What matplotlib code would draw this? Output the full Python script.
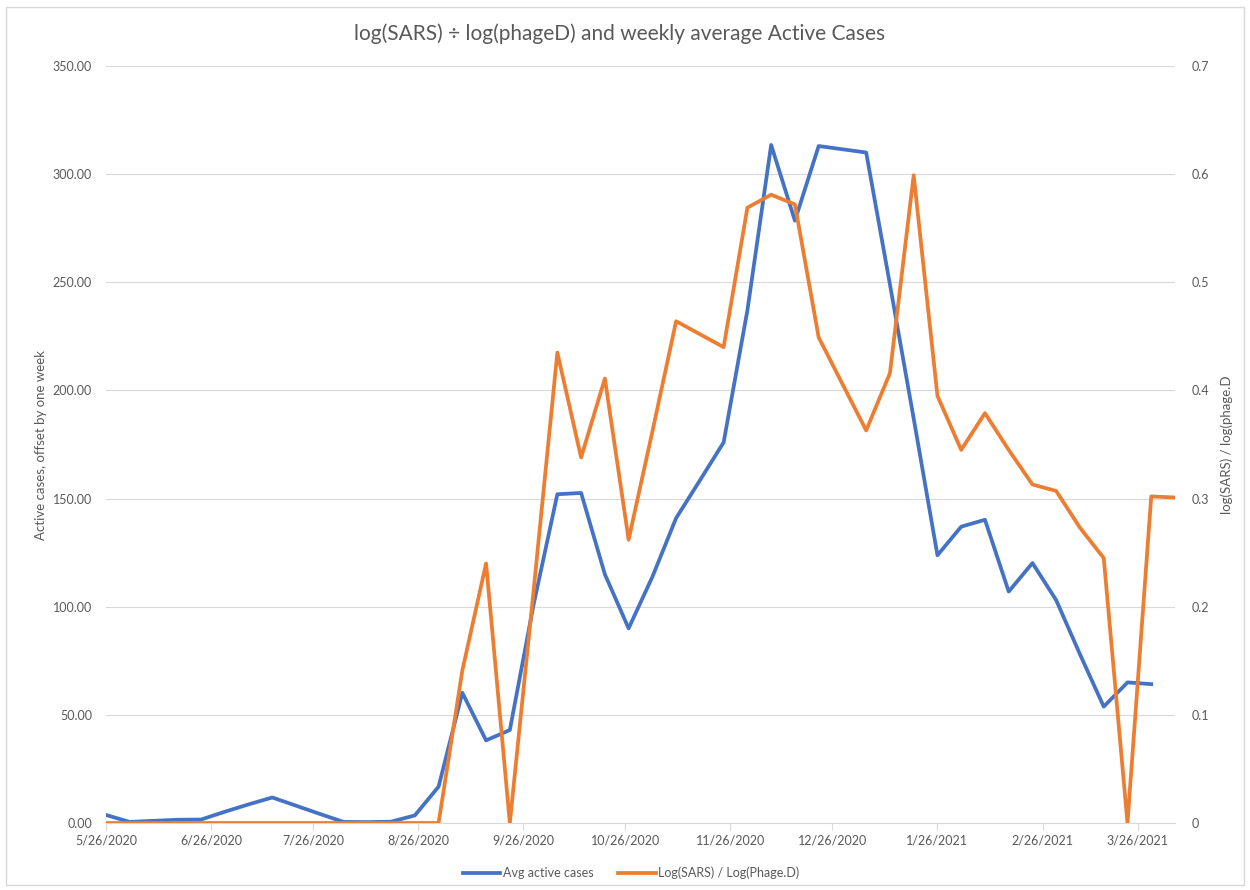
import numpy as np
import pandas as pd
import matplotlib
matplotlib.use("Agg")
import matplotlib.pyplot as plt
import matplotlib.dates as mdates
from matplotlib.ticker import FuncFormatter, MultipleLocator
from matplotlib.patches import Rectangle

plt.rcParams['font.family'] = ['Lato', 'DejaVu Sans']

# weekly sample dates
weeks = pd.date_range("2020-05-26", periods=46, freq="7D")

# Avg active cases (left axis), last week has no value
active_cases = [3.7, 0.5, 1.0, 1.5, 1.6, 5.2, 8.6, 11.8, 8.0, 4.2,
                0.5, 0.4, 0.6, 3.5, 16.8, 60.2, 38.2, 43.0, 101.0, 152.0,
                152.6, 115.0, 90.0, 113.8, 141.0, 158.4, 176.0, 237.0, 313.5, 278.5,
                313.0, 311.5, 310.0, 249.0, 187.0, 123.8, 137.0, 140.2, 107.0, 120.2,
                103.0, 78.0, 53.8, 65.0, 64.2]

# Log(SARS) / Log(Phage.D) (right axis)
log_ratio = [0, 0, 0, 0, 0, 0, 0, 0, 0, 0,
             0, 0, 0, 0, 0, 0.141, 0.240, 0.0, 0.215, 0.435,
             0.338, 0.411, 0.262, 0.362, 0.464, 0.452, 0.440, 0.569, 0.581, 0.572,
             0.449, 0.406, 0.363, 0.416, 0.599, 0.395, 0.345, 0.379, 0.345, 0.313,
             0.307, 0.273, 0.245, 0.0, 0.302, 0.301]

BLUE = "#4472C4"
ORANGE = "#ED7D31"
GREY = "#595959"
GRID = "#D9D9D9"

fig = plt.figure(figsize=(12.5, 8.9), dpi=100)
ax = fig.add_axes([106 / 1250, 67 / 890, (1175 - 106) / 1250, (823 - 66) / 890])
ax2 = ax.twinx()

ax.plot(weeks[:len(active_cases)], active_cases, color=BLUE, lw=2.7,
        label="Avg active cases", solid_joinstyle="round")
ax2.plot(weeks, log_ratio, color=ORANGE, lw=2.7,
         label="Log(SARS) / Log(Phage.D)", solid_joinstyle="round")

# left axis
ax.set_ylim(0, 350)
ax.yaxis.set_major_locator(MultipleLocator(50))
ax.yaxis.set_major_formatter(FuncFormatter(lambda v, p: f"{v:.2f}"))
ax.grid(axis="y", color=GRID, lw=0.8)
ax.set_axisbelow(True)

# right axis
ax2.set_ylim(0, 0.7)
ax2.yaxis.set_major_locator(MultipleLocator(0.1))
ax2.yaxis.set_major_formatter(FuncFormatter(lambda v, p: "0" if abs(v) < 1e-9 else f"{v:.1f}"))

# dates
ax.set_xlim(weeks[0], weeks[-1])
ax.xaxis.set_major_locator(mdates.MonthLocator(bymonthday=26))
ax.xaxis.set_major_formatter(FuncFormatter(
    lambda v, p: f"{mdates.num2date(v).month}/{mdates.num2date(v).day}/{mdates.num2date(v).year}"))

for a in (ax, ax2):
    for s in a.spines.values():
        s.set_visible(False)
    a.tick_params(colors=GREY, labelsize=9)
ax.spines["bottom"].set_visible(True)
ax.spines["bottom"].set_color(GRID)
ax.tick_params(axis="y", length=0, pad=10)
ax2.tick_params(axis="y", length=0, pad=12)
ax.tick_params(axis="x", length=5, color=GRID, pad=3)

ax.set_ylabel("Active cases, offset by one week", color=GREY, fontsize=9.5, labelpad=4)
ax2.set_ylabel("log(SARS) / log(phage.D", color=GREY, fontsize=9.5, labelpad=8)

fig.text(0.496, 0.962, "log(SARS) ÷ log(phageD) and weekly average Active Cases",
         ha="center", va="center", color=GREY, fontsize=15)

h1, l1 = ax.get_legend_handles_labels()
h2, l2 = ax2.get_legend_handles_labels()
fig.legend(h1 + h2, l1 + l2, loc="center", bbox_to_anchor=(0.505, 0.019), ncol=2,
           frameon=False, fontsize=9, labelcolor=GREY, handlelength=3,
           handletextpad=0.2, columnspacing=2.0)

# chart border
fig.patches.append(Rectangle((6 / 1250, 5 / 890), 1238 / 1250, 878 / 890,
                             transform=fig.transFigure, fill=False,
                             edgecolor=GRID, lw=1))

fig.savefig("out.png", dpi=100, facecolor="white")
